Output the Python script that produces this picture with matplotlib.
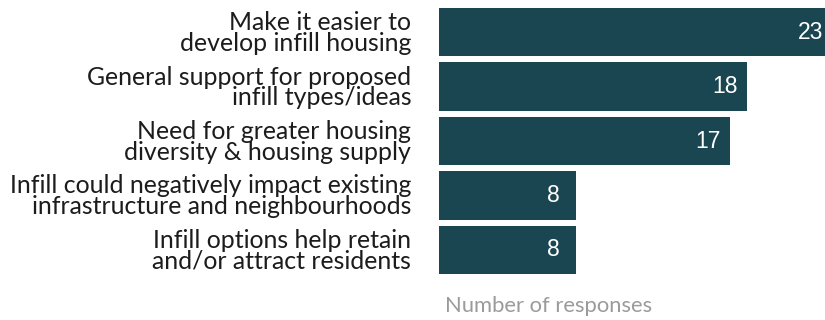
import matplotlib
matplotlib.use("Agg")
import matplotlib.pyplot as plt

categories = [
    "Make it easier to\ndevelop infill housing",
    "General support for proposed\ninfill types/ideas",
    "Need for greater housing\ndiversity & housing supply",
    "Infill could negatively impact existing\ninfrastructure and neighbourhoods",
    "Infill options help retain\nand/or attract residents",
]
responses = [23, 18, 17, 8, 8]

BAR_COLOR = "#1a4651"
TEXT_COLOR = "#1c1c1c"
AXIS_LABEL_COLOR = "#9b9b9b"
LABEL_FONT = "Lato"

fig = plt.figure(figsize=(8.25, 3.2), dpi=100)
ax = fig.add_axes([439 / 825, 46 / 320, 1 - 439 / 825, 266 / 320])

positions = list(range(len(categories)))
ax.barh(positions, responses, height=0.89, color=BAR_COLOR)
ax.set_ylim(len(categories) - 1 + 0.445, -0.445)
ax.set_xlim(0, 22.55)

for y, value in zip(positions, responses):
    ax.text(value - 1.3, y, str(value), ha="center", va="center",
            color="white", fontsize=16.5, family="Liberation Sans")

ax.set_yticks(positions)
ax.set_yticklabels(categories, fontsize=17.9, family=LABEL_FONT, color=TEXT_COLOR,
                   linespacing=0.87)
ax.tick_params(axis="y", length=0, pad=20)
ax.set_xticks([])
for spine in ax.spines.values():
    spine.set_visible(False)

fig.text(445 / 825, 1 - 312 / 320, "Number of responses", ha="left",
         va="baseline", fontsize=15.8, family=LABEL_FONT, color=AXIS_LABEL_COLOR)

fig.savefig("out.png", dpi=100)
